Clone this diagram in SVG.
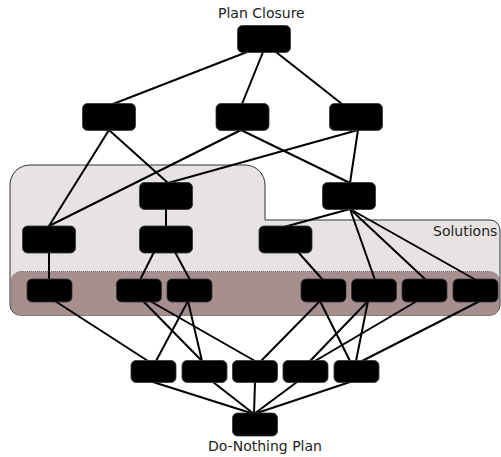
<svg xmlns="http://www.w3.org/2000/svg" width="501" height="457" viewBox="0 0 501 457">
  <style>
    .lbl { font-family: "DejaVu Sans", Verdana, sans-serif; font-size: 14px; fill: #222; }
    .edge { stroke: #000; stroke-width: 2; fill: none; stroke-linecap: round; }
    .big { fill: #000; stroke: #333; stroke-width: 0.8; }
    .small { fill: #000; stroke: #333; stroke-width: 0.8; }
  </style>

  <!-- Solutions region (L-shaped) and the shaded band inside it -->
  <g id="solutions">
    <path d="M 30,165 H 245 A 20 20 0 0 1 265,185 V 220 H 490 A 10 10 0 0 1 500,230 V 305 A 10 10 0 0 1 490,315 H 20 A 10 10 0 0 1 10,305 V 185 A 20 20 0 0 1 30,165 Z" fill="#e8e3e3" stroke="#333" stroke-width="1"/>
    <rect x="11" y="271.5" width="488.5" height="44" rx="10" fill="#a88f8f" stroke="#666" stroke-width="1" stroke-dasharray="1 1"/>
    <text class="lbl" x="433" y="236">Solutions</text>
  </g>

  <!-- Connectors -->
  <g id="connectors" class="edge">
    <line x1="247" y1="52" x2="113" y2="104"/>
    <line x1="263" y1="52" x2="242" y2="104"/>
    <line x1="276" y1="52" x2="342" y2="104"/>
    <line x1="109" y1="130" x2="49" y2="226"/>
    <line x1="109" y1="130" x2="168" y2="183"/>
    <line x1="241" y1="130" x2="49" y2="226"/>
    <line x1="241" y1="130" x2="350" y2="183"/>
    <line x1="358" y1="130" x2="168" y2="183"/>
    <line x1="358" y1="130" x2="350" y2="183"/>
    <line x1="166" y1="209" x2="166" y2="227"/>
    <line x1="350" y1="209" x2="284" y2="227"/>
    <line x1="350" y1="209" x2="375" y2="280"/>
    <line x1="350" y1="209" x2="426" y2="280"/>
    <line x1="350" y1="209" x2="476" y2="280"/>
    <line x1="49" y1="252" x2="49" y2="280"/>
    <line x1="154" y1="252" x2="140" y2="280"/>
    <line x1="175" y1="252" x2="190" y2="280"/>
    <line x1="298" y1="252" x2="323" y2="280"/>
    <line x1="55" y1="301" x2="148" y2="361"/>
    <line x1="143" y1="301" x2="202" y2="361"/>
    <line x1="150" y1="301" x2="255" y2="361"/>
    <line x1="188" y1="301" x2="156" y2="361"/>
    <line x1="188" y1="301" x2="202" y2="361"/>
    <line x1="320" y1="301" x2="261" y2="361"/>
    <line x1="320" y1="301" x2="350" y2="361"/>
    <line x1="368" y1="301" x2="310" y2="361"/>
    <line x1="368" y1="301" x2="356" y2="361"/>
    <line x1="417" y1="301" x2="315" y2="361"/>
    <line x1="480" y1="301" x2="362" y2="361"/>
    <line x1="153" y1="382" x2="254" y2="414"/>
    <line x1="213" y1="382" x2="254" y2="414"/>
    <line x1="255" y1="382" x2="254" y2="414"/>
    <line x1="297" y1="382" x2="254" y2="414"/>
    <line x1="350" y1="382" x2="254" y2="414"/>
  </g>

  <!-- Top node -->
  <g id="plan-closure">
    <text class="lbl" x="218" y="18">Plan Closure</text>
    <rect class="big" x="237.5" y="25.5" width="53" height="27" rx="5"/>
  </g>

  <!-- Row 2 -->
  <g id="r2a"><rect class="big" x="82.5" y="103.5" width="53" height="27" rx="5"/></g>
  <g id="r2b"><rect class="big" x="216" y="103.5" width="53" height="27" rx="5"/></g>
  <g id="r2c"><rect class="big" x="329.5" y="103.5" width="53" height="27" rx="5"/></g>

  <!-- Row 3 -->
  <g id="r3a"><rect class="big" x="139.5" y="182.5" width="53" height="27" rx="5"/></g>
  <g id="r3b"><rect class="big" x="322.5" y="182.5" width="53" height="27" rx="5"/></g>

  <!-- Row 4 -->
  <g id="r4a"><rect class="big" x="22.5" y="226" width="53" height="27" rx="5"/></g>
  <g id="r4b"><rect class="big" x="139.5" y="226" width="53" height="27" rx="5"/></g>
  <g id="r4c"><rect class="big" x="259" y="226" width="53" height="27" rx="5"/></g>

  <!-- Row 5 -->
  <g id="r5a"><rect class="small" x="27" y="279" width="45" height="23" rx="5"/></g>
  <g id="r5b"><rect class="small" x="116.5" y="279" width="45" height="23" rx="5"/></g>
  <g id="r5c"><rect class="small" x="167" y="279" width="45" height="23" rx="5"/></g>
  <g id="r5d"><rect class="small" x="301" y="279" width="45" height="23" rx="5"/></g>
  <g id="r5e"><rect class="small" x="351.5" y="279" width="45" height="23" rx="5"/></g>
  <g id="r5f"><rect class="small" x="402" y="279" width="45" height="23" rx="5"/></g>
  <g id="r5g"><rect class="small" x="453" y="279" width="45" height="23" rx="5"/></g>

  <!-- Row 6 -->
  <g id="r6a"><rect class="small" x="131" y="360.5" width="45" height="22" rx="5"/></g>
  <g id="r6b"><rect class="small" x="182" y="360.5" width="45" height="22" rx="5"/></g>
  <g id="r6c"><rect class="small" x="232.5" y="360.5" width="45" height="22" rx="5"/></g>
  <g id="r6d"><rect class="small" x="283" y="360.5" width="45" height="22" rx="5"/></g>
  <g id="r6e"><rect class="small" x="334" y="360.5" width="45" height="22" rx="5"/></g>

  <!-- Bottom node -->
  <g id="do-nothing">
    <rect class="small" x="232.5" y="413" width="45" height="23" rx="5"/>
    <text class="lbl" x="208" y="451">Do-Nothing Plan</text>
  </g>
</svg>
